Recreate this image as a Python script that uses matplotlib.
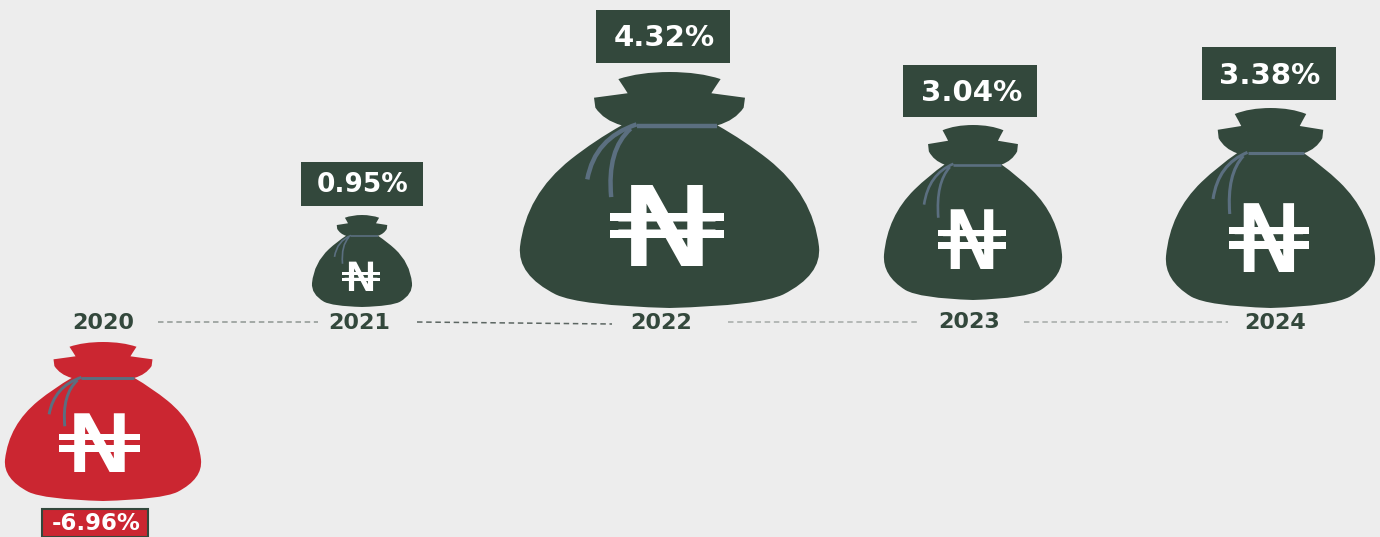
import matplotlib
matplotlib.use("Agg")
import matplotlib.pyplot as plt
from matplotlib.path import Path
from matplotlib.patches import PathPatch, Rectangle
from matplotlib.patheffects import AbstractPathEffect
from matplotlib.transforms import Affine2D

years = ["2020", "2021", "2022", "2023", "2024"]
growth = [-6.96, 0.95, 4.32, 3.04, 3.38]

# layout, in pixels of the picture (left, top, right, bottom)
bag_boxes = [(5, 342, 201, 501), (312, 215, 412, 307), (520, 72, 819, 308),
             (884, 125, 1062, 300), (1166, 108, 1375, 308)]
label_boxes = [(42, 509, 148, 537), (301, 162, 423, 206), (596, 10, 730, 63),
               (903, 65, 1037, 117), (1202, 47, 1336, 100)]
# text x centre and baseline y
year_pos = [(103, 329), (359, 329), (661, 329), (969, 328), (1275, 329)]
label_pos = [(96, 530), (363, 192), (664, 46), (972, 101), (1270, 84)]
naira_pos = [(99.5, 472), (361, 291), (667, 266), (972, 269), (1269, 272)]
naira_size = [58, 29, 80, 59, 68]
naira_height = [59, 29, 81, 60, 69]
naira_stretch = [1.41, 1.35, 1.45, 1.17, 1.2]
naira_bar_width = [81, 38, 114, 68, 80]
label_size = [16.5, 19, 21, 21, 21]
dash_lines = [(158, 318, 322, 322, "#8f9692"), (417, 612, 322, 324, "#5c6662"),
              (728, 920, 322, 322, "#a5aaa7"), (1024, 1228, 322, 322, "#a5aaa7")]

bg = "#ededed"
green = "#33483c"
red = "#cb2631"
string_col = "#5b6f80"

M, L, C = Path.MOVETO, Path.LINETO, Path.CURVE3
# bag outline, 0-1 in both directions
right_side = [(0.6, 0.0), (0.671, 0.03), (0.652, 0.066), (0.64, 0.09),
              (0.7525, 0.109), (0.748, 0.151), (0.72, 0.205), (0.66, 0.226),
              (0.75, 0.29), (0.83, 0.37), (0.98, 0.52), (1.0, 0.74),
              (1.01, 0.86), (0.88, 0.943), (0.8, 0.99), (0.5, 1.0)]
right_codes = [C, C, L, L, L, L, C, C, C, C, C, C, C, C, C, C]
bag_verts = [(0.5, 0.0)] + right_side
bag_codes = [M] + right_codes
# left side is the right side mirrored, walked backwards
back = [(0.5, 0.0)] + right_side[:-1]
for (u, v), code in zip(reversed(back), reversed(right_codes)):
    bag_verts.append((1 - u, v))
    bag_codes.append(code)
# tie string: band and two loose ends
string_parts = [
    ([(0.39, 0.227), (0.66, 0.227)], [M, L]),
    ([(0.39, 0.222), (0.25, 0.28), (0.225, 0.455)], [M, C, C]),
    ([(0.37, 0.24), (0.29, 0.33), (0.305, 0.53)], [M, C, C]),
]
# the sign's two bars, from its bottom, as part of its height
bar_spans = [(0.55, 0.65), (0.34, 0.45)]


class WideGlyph(AbstractPathEffect):
    # widen a text glyph about its centre, the sign in the picture is wider than the font's
    def __init__(self, cx, factor):
        super().__init__()
        self.cx = cx
        self.factor = factor

    def draw_path(self, renderer, gc, tpath, affine, rgbFace=None):
        wide = affine + Affine2D().translate(-self.cx, 0).scale(self.factor, 1).translate(self.cx, 0)
        renderer.draw_path(gc, tpath, wide, rgbFace)


def place(verts, box):
    x0, y0, x1, y1 = box
    return [(x0 + u * (x1 - x0), y0 + v * (y1 - y0)) for u, v in verts]


fig = plt.figure(figsize=(13.8, 5.37), dpi=100, facecolor=bg)
ax = fig.add_axes([0, 0, 1, 1])
ax.set_xlim(0, 1380)
ax.set_ylim(537, 0)
ax.axis("off")

for x0, x1, y0, y1, col in dash_lines:
    ax.plot([x0, x1], [y0, y1], color=col, lw=1.1, dashes=(3.6, 2.4))

for i, year in enumerate(years):
    col = red if growth[i] < 0 else green
    box = bag_boxes[i]
    ax.add_patch(PathPatch(Path(place(bag_verts, box), bag_codes), fc=col, ec="none"))
    width = (box[2] - box[0]) / 299
    for verts, codes in string_parts:
        ax.add_patch(PathPatch(Path(place(verts, box), codes), fc="none", ec=string_col,
                               lw=max(1.2, 3.2 * width), capstyle="butt"))
    nx, ny = naira_pos[i]
    ax.text(nx, ny, "₦", color="white", fontsize=naira_size[i],
            family="DejaVu Sans", ha="center", va="baseline",
            path_effects=[WideGlyph(nx, naira_stretch[i])])
    for low, high in bar_spans:
        top = ny - high * naira_height[i]
        ax.add_patch(Rectangle((nx - naira_bar_width[i] / 2, top), naira_bar_width[i],
                               (high - low) * naira_height[i], fc="white", ec="none"))

    lx0, ly0, lx1, ly1 = label_boxes[i]
    ax.add_patch(Rectangle((lx0, ly0), lx1 - lx0, ly1 - ly0, fc=col,
                           ec=green if growth[i] < 0 else "none", lw=1.5))
    ax.text(label_pos[i][0], label_pos[i][1], f"{growth[i]:.2f}%", color="white",
            fontsize=label_size[i], family="DejaVu Sans", weight="bold",
            ha="center", va="baseline")
    ax.text(year_pos[i][0], year_pos[i][1], year, color=green, fontsize=16,
            family="DejaVu Sans", weight="bold", ha="center", va="baseline")

fig.savefig("out.png", dpi=100, facecolor=bg)
